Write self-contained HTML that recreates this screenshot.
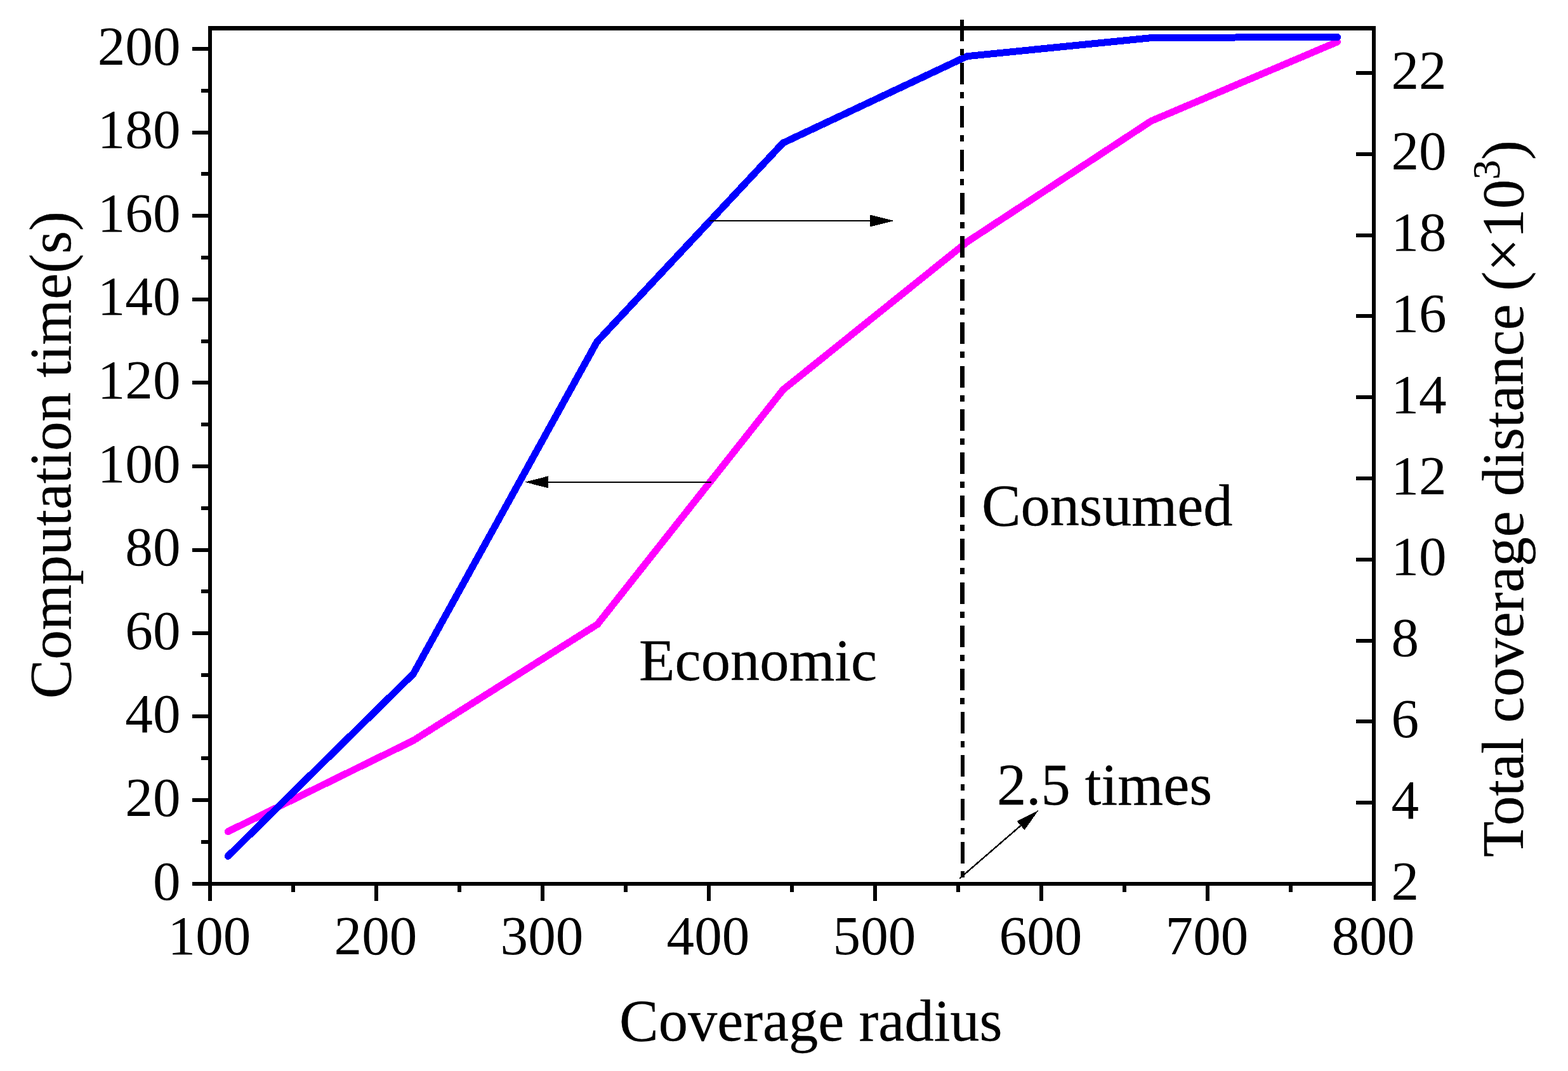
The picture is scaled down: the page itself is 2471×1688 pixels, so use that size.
<!DOCTYPE html>
<html lang="en"><head><meta charset="utf-8"><title>Computation time and total coverage distance vs coverage radius</title>
<style>
html,body{margin:0;padding:0;background:#fff;}
body{width:2471px;height:1688px;overflow:hidden;}
svg{display:block;}
</style></head><body>
<svg width="2471" height="1688" viewBox="0 0 2471 1688" font-family='"Liberation Serif", "DejaVu Serif", serif' fill="#000">
<rect x="0" y="0" width="2471" height="1688" fill="#fff"/>
<g id="curves" shape-rendering="crispEdges">
<polyline points="359.3,1310.6 651.3,1167.2 941.5,984.0 1234.2,614.1 1524.5,381.0 1814.0,190.8 2107.5,66.0" fill="none" stroke="#ff00ff" stroke-width="11" stroke-linejoin="round" stroke-linecap="round"/>
<polyline points="359.3,1349.4 651.3,1062.1 940.8,538.6 1233.8,225.4 1524.0,88.7 1815.5,59.5 2107.5,58.4" fill="none" stroke="#0000ff" stroke-width="11" stroke-linejoin="round" stroke-linecap="round"/>
</g>
<line x1="1516.0" y1="31" x2="1517.0" y2="1390" stroke="#000" stroke-width="6.6" stroke-dasharray="34 12.1 10 12.1" shape-rendering="crispEdges"/>
<g id="axes" shape-rendering="crispEdges">
<rect x="328" y="41" width="1840" height="7"/>
<rect x="303" y="1390" width="1865" height="6"/>
<rect x="328" y="41" width="6" height="1379"/>
<rect x="2162" y="41" width="6" height="1379"/>
<rect x="317" y="1324" width="11" height="6"/>
<rect x="303" y="1258" width="25" height="6"/>
<rect x="317" y="1192" width="11" height="6"/>
<rect x="303" y="1126" width="25" height="6"/>
<rect x="317" y="1061" width="11" height="6"/>
<rect x="303" y="995" width="25" height="6"/>
<rect x="317" y="929" width="11" height="6"/>
<rect x="303" y="864" width="25" height="6"/>
<rect x="317" y="798" width="11" height="6"/>
<rect x="303" y="732" width="25" height="6"/>
<rect x="317" y="666" width="11" height="6"/>
<rect x="303" y="600" width="25" height="6"/>
<rect x="317" y="535" width="11" height="6"/>
<rect x="303" y="469" width="25" height="6"/>
<rect x="317" y="403" width="11" height="6"/>
<rect x="303" y="337" width="25" height="6"/>
<rect x="317" y="271" width="11" height="6"/>
<rect x="303" y="206" width="25" height="6"/>
<rect x="317" y="140" width="11" height="6"/>
<rect x="303" y="74" width="25" height="6"/>
<rect x="459" y="1396" width="6" height="10"/>
<rect x="590" y="1396" width="6" height="24"/>
<rect x="721" y="1396" width="6" height="10"/>
<rect x="852" y="1396" width="6" height="24"/>
<rect x="983" y="1396" width="6" height="10"/>
<rect x="1114" y="1396" width="6" height="24"/>
<rect x="1245" y="1396" width="6" height="10"/>
<rect x="1376" y="1396" width="6" height="24"/>
<rect x="1507" y="1396" width="6" height="10"/>
<rect x="1638" y="1396" width="6" height="24"/>
<rect x="1769" y="1396" width="6" height="10"/>
<rect x="1900" y="1396" width="6" height="24"/>
<rect x="2031" y="1396" width="6" height="10"/>
<rect x="2137" y="1262" width="25" height="6"/>
<rect x="2137" y="1134" width="25" height="6"/>
<rect x="2137" y="1007" width="25" height="6"/>
<rect x="2137" y="879" width="25" height="6"/>
<rect x="2137" y="751" width="25" height="6"/>
<rect x="2137" y="623" width="25" height="6"/>
<rect x="2137" y="495" width="25" height="6"/>
<rect x="2137" y="368" width="25" height="6"/>
<rect x="2137" y="240" width="25" height="6"/>
<rect x="2137" y="112" width="25" height="6"/>
</g>
<g id="ticklabels" font-size="87.2">
<text x="284.5" y="1417.6" text-anchor="end">0</text>
<text x="284.5" y="1286.0" text-anchor="end">20</text>
<text x="284.5" y="1154.4" text-anchor="end">40</text>
<text x="284.5" y="1022.8" text-anchor="end">60</text>
<text x="284.5" y="891.2" text-anchor="end">80</text>
<text x="284.5" y="759.6" text-anchor="end">100</text>
<text x="284.5" y="628.0" text-anchor="end">120</text>
<text x="284.5" y="496.4" text-anchor="end">140</text>
<text x="284.5" y="364.8" text-anchor="end">160</text>
<text x="284.5" y="233.2" text-anchor="end">180</text>
<text x="284.5" y="101.6" text-anchor="end">200</text>
<text x="330.0" y="1504.4" text-anchor="middle">100</text>
<text x="592.0" y="1504.4" text-anchor="middle">200</text>
<text x="854.0" y="1504.4" text-anchor="middle">300</text>
<text x="1116.0" y="1504.4" text-anchor="middle">400</text>
<text x="1378.0" y="1504.4" text-anchor="middle">500</text>
<text x="1640.0" y="1504.4" text-anchor="middle">600</text>
<text x="1902.0" y="1504.4" text-anchor="middle">700</text>
<text x="2164.0" y="1504.4" text-anchor="middle">800</text>
<text x="2192.5" y="1417.6">2</text>
<text x="2192.5" y="1289.8">4</text>
<text x="2192.5" y="1162.0">6</text>
<text x="2192.5" y="1034.2">8</text>
<text x="2192.5" y="906.4">10</text>
<text x="2192.5" y="778.6">12</text>
<text x="2192.5" y="650.8">14</text>
<text x="2192.5" y="523.0">16</text>
<text x="2192.5" y="395.2">18</text>
<text x="2192.5" y="267.4">20</text>
<text x="2192.5" y="139.6">22</text>
</g>
<g id="titles" font-size="92.5" stroke="#000" stroke-width="0.3" stroke-linejoin="round">
<text x="1277.8" y="1640.0" text-anchor="middle">Coverage radius</text>
<text transform="translate(111.0,717.2) rotate(-90)" text-anchor="middle">Computation time(s)</text>
<text transform="translate(2400.3,1351.0) rotate(-90)">Total coverage distance <tspan dx="-2.5">(×10</tspan><tspan font-size="62" dy="-37.8">3</tspan><tspan dy="37.8">)</tspan></text>
</g>
<g id="annotations" font-size="92.5" stroke="#000" stroke-width="0.3" stroke-linejoin="round">
<text x="1007.1" y="1071.7">Economic</text>
<text x="1546.9" y="828.0">Consumed</text>
<text x="1571.1" y="1268.0">2.5 times</text>
</g>
<g id="arrows" shape-rendering="crispEdges">
<line x1="1117.7" y1="348.0" x2="1372.3" y2="348.0" stroke="#000" stroke-width="2.4"/>
<polyline points="1409.3,348.0 1371.3,357.4 1371.3,338.6 1409.3,348.0" fill="#000" stroke="none"/>
<line x1="1121.0" y1="759.8" x2="862.8" y2="759.8" stroke="#000" stroke-width="2.4"/>
<polyline points="827.0,759.8 863.8,750.4 863.8,769.2 827.0,759.8" fill="#000" stroke="none"/>
<line x1="1512.3" y1="1384.5" x2="1609.3" y2="1300.6" stroke="#000" stroke-width="2.4"/>
<polyline points="1636.7,1276.9 1614.6,1308.2 1602.5,1294.3 1636.7,1276.9" fill="#000" stroke="none"/>
</g>
</svg>
</body></html>
